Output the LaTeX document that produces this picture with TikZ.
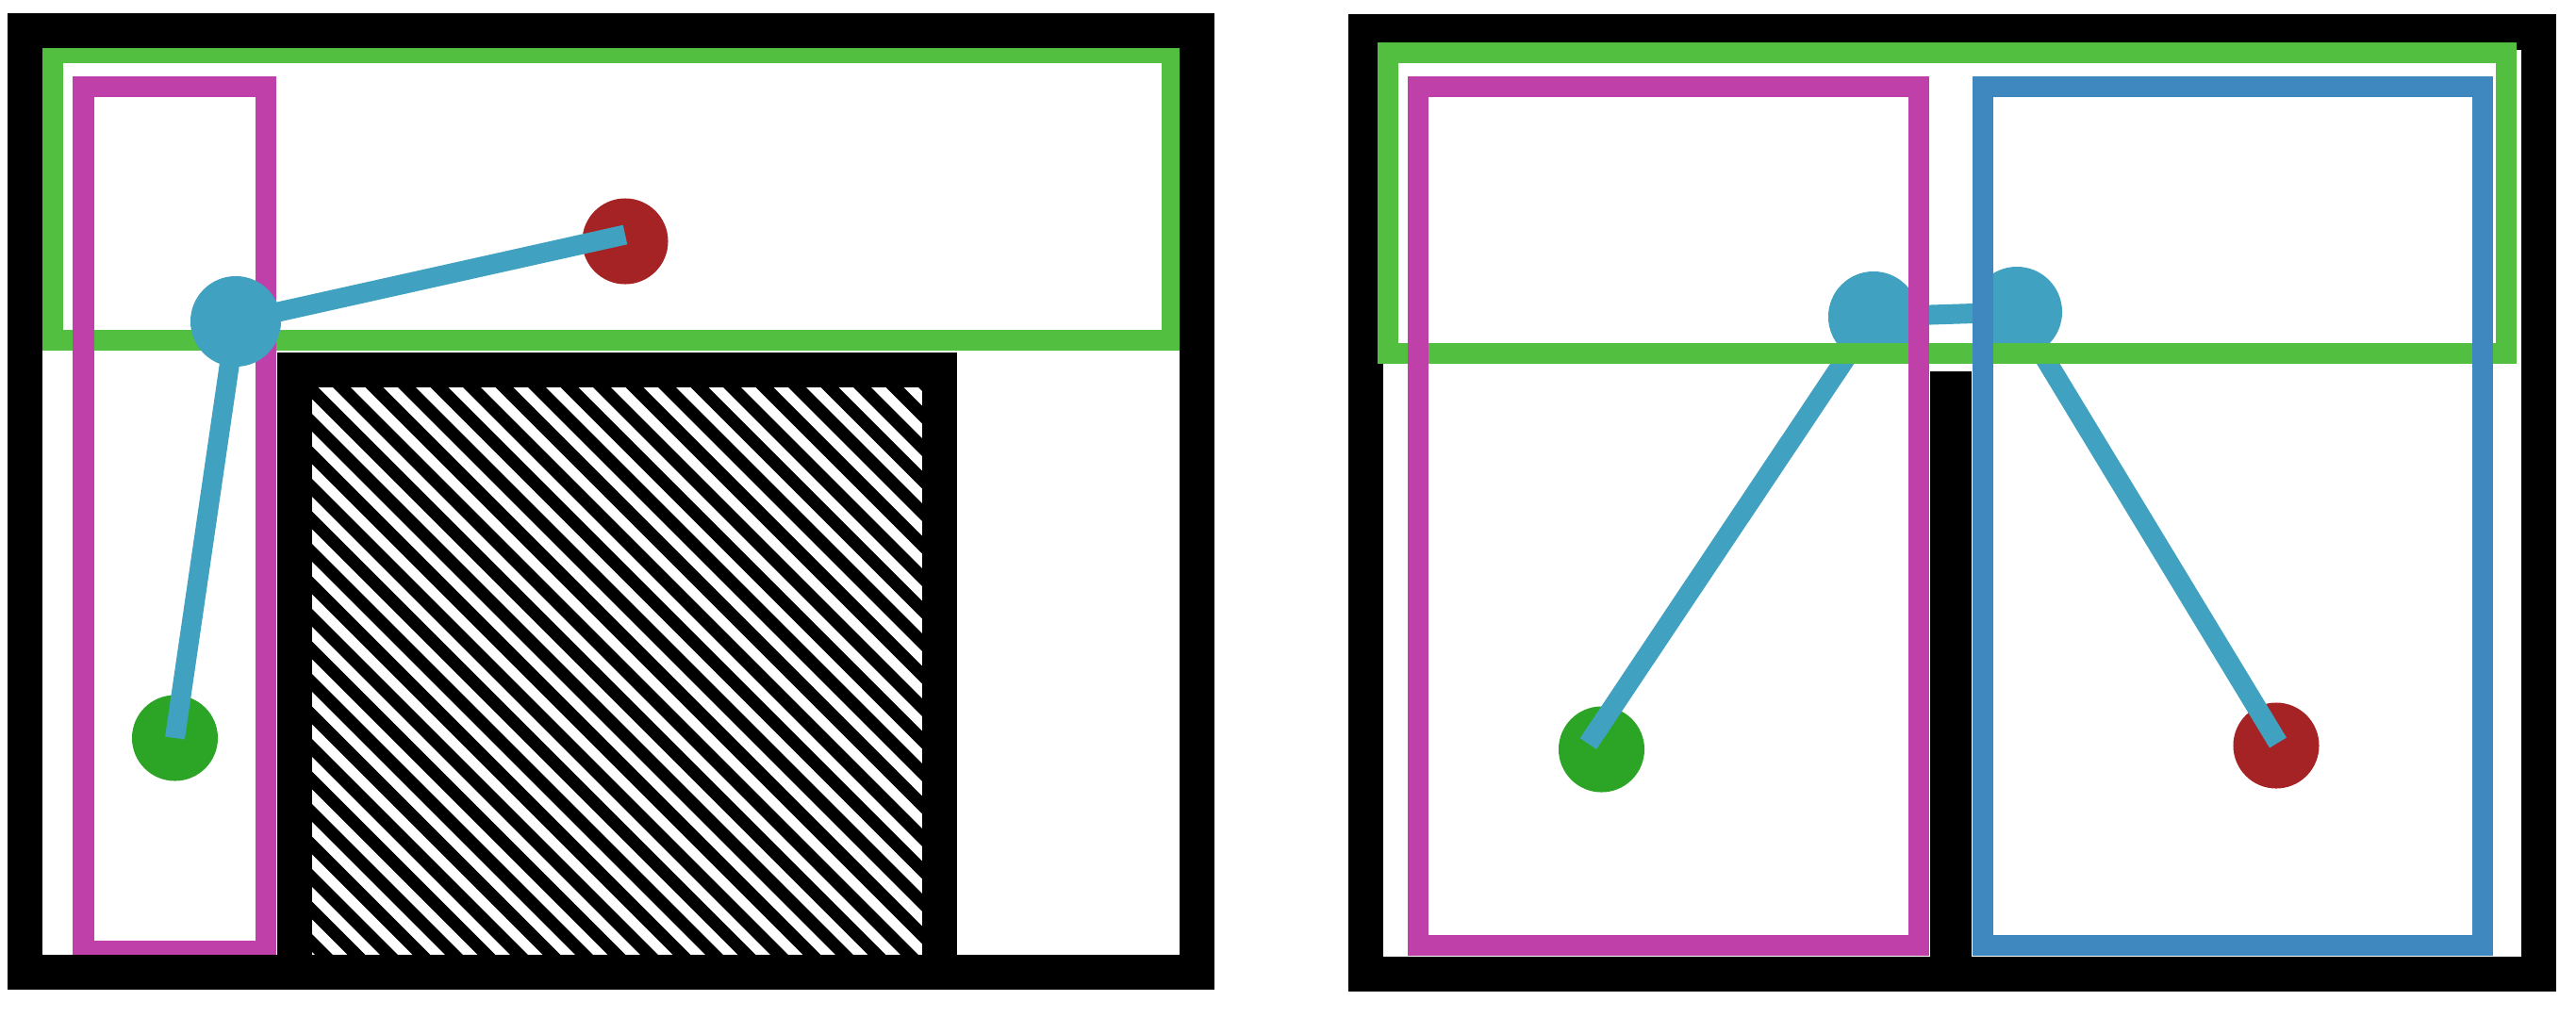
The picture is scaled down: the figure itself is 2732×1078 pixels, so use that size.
\documentclass[tikz,border=0pt]{standalone}
\usetikzlibrary{calc}
\definecolor{frgreen}{RGB}{83,191,64}
\definecolor{frmag}{RGB}{191,64,169}
\definecolor{frblue}{RGB}{63,135,191}
\definecolor{lnblue}{RGB}{64,162,192}
\definecolor{ptred}{RGB}{165,35,37}
\definecolor{ptgreen}{RGB}{44,165,38}
\begin{document}
\begin{tikzpicture}[x=0.01cm,y=-0.01cm,
  frame/.style={draw=black,line width=3.7mm},
  greenbox/.style={draw=frgreen,line width=2.2mm},
  magbox/.style={draw=frmag,line width=2.2mm},
  bluebox/.style={draw=frblue,line width=2.2mm},
  link/.style={draw=lnblue,line width=2.1mm},
  dot/.style={circle,inner sep=0pt,draw=none},
  hub/.style={dot,fill=lnblue,minimum size=0.96cm},
  redpt/.style={dot,fill=ptred,minimum size=0.91cm},
  greenpt/.style={dot,fill=ptgreen,minimum size=0.91cm},
  hatchline/.style={draw=black,line width=1.32mm}
]
\fill[white] (0,0) rectangle (2732,1078);
\useasboundingbox (0,0) rectangle (2732,1078);

% ---------- left panel ----------
\draw[greenbox] (56,56) rectangle (1243,361);
\draw[magbox] (88.5,92) rectangle (282,1009);
\fill[black] (294,374) rectangle (1015,1050);
\fill[white] (331,411) rectangle (978,1013);
\begin{scope}
  \clip (331,411) rectangle (978,1013);
  \foreach \n in {-9,...,28}{
    \pgfmathsetmacro\cc{-262+34.5*\n}
    \draw[hatchline] (300,{300+\cc}) -- (1010,{1010+\cc});
  }
\end{scope}
\draw[frame] (26.5,32.5) rectangle (1269.5,1031.5);

\node[hub] (hubL) at (250,341) {};
\node[redpt] (redL) at (663,256) {};
\node[greenpt] (grnL) at (185.5,783) {};
\draw[link] (hubL.center) -- ($(redL.center)+(0,-7)$);
\draw[link] (hubL.center) -- (grnL.center);

% ---------- right panel ----------
\draw[frame] (1448.5,34) rectangle (2692,1033);
\fill[black] (2047,394) rectangle (2091,1033);
\node[hub] (hubA) at (1987,336) {};
\node[hub] (hubB) at (2139,331) {};
\node[greenpt] (grnR) at (1698.5,795) {};
\node[redpt] (redR) at (2414,791) {};
\draw[link] (hubA.center) -- ($(grnR.center)+(-14,-6)$);
\draw[link] (hubA.center) -- (hubB.center);
\draw[link] (hubB.center) -- ($(redR.center)+(2,-3)$);
\draw[greenbox] (1472,56) rectangle (2658,375);
\draw[magbox] (1504,92) rectangle (2035,1003);
\draw[bluebox] (2103,92) rectangle (2633,1003);
\end{tikzpicture}
\end{document}
